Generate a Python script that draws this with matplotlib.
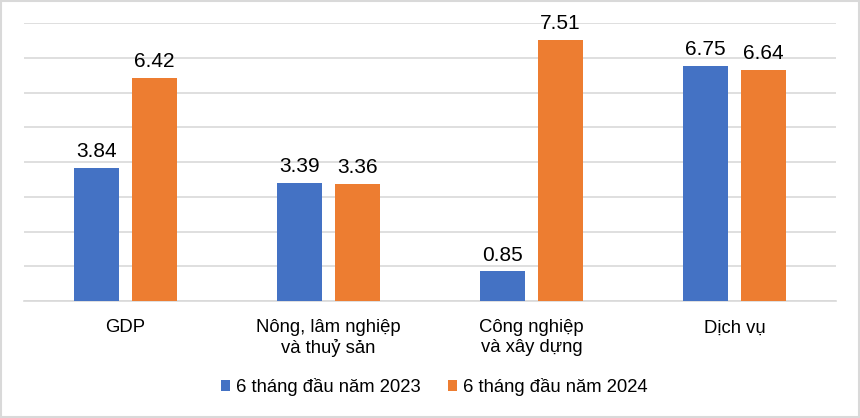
import matplotlib
matplotlib.use("Agg")
import matplotlib.pyplot as plt
import numpy as np
from matplotlib.patches import Rectangle

categories = ["GDP", "Nông, lâm nghiệp\nvà thuỷ sản", "Công nghiệp\nvà xây dựng", "Dịch vụ"]
series_names = ["6 tháng đầu năm 2023", "6 tháng đầu năm 2024"]
values_2023 = [3.84, 3.39, 0.85, 6.75]
values_2024 = [6.42, 3.36, 7.51, 6.64]
colors = ["#4472C4", "#ED7D31"]

plt.rcParams['font.family'] = ['Liberation Sans', 'DejaVu Sans']

fig = plt.figure(figsize=(8.6, 4.18), dpi=100)
ax = fig.add_axes([24/860, 1-301/418, (836-24)/860, (301-23)/418])

x = np.arange(len(categories))
w = 0.222
off = 0.143
b1 = ax.bar(x - off, values_2023, w, color=colors[0], label=series_names[0], zorder=3)
b2 = ax.bar(x + off, values_2024, w, color=colors[1], label=series_names[1], zorder=3)
for b, v in ((b1, values_2023), (b2, values_2024)):
    ax.bar_label(b, labels=[f"{t:.2f}" for t in v], padding=5, fontsize=15, color="#000000")

ax.set_xlim(-0.5, len(categories) - 0.5)
ax.set_ylim(0, 8)
ax.set_yticks(np.arange(0, 9, 1))
ax.yaxis.grid(True, color="#d9d9d9", linewidth=1.2, zorder=0)
ax.tick_params(axis='y', left=False, labelleft=False)
ax.tick_params(axis='x', bottom=False, pad=9.7)
ax.set_xticks(x)
ax.set_xticklabels(categories, fontsize=13.3, linespacing=1.2)
for s in ["top", "right", "left"]:
    ax.spines[s].set_visible(False)
ax.spines["bottom"].set_color("#d9d9d9")
ax.spines["bottom"].set_linewidth(1.2)

fig.legend(loc='center', bbox_to_anchor=(0.505, 1-387/418), ncol=2, frameon=False,
           fontsize=13.3, handlelength=0.5, handleheight=0.5, handletextpad=0.3,
           columnspacing=1.5)

fig.patches.append(Rectangle((0.0015, 0.003), 0.997, 0.994, transform=fig.transFigure,
                             fill=False, edgecolor="#d9d9d9", linewidth=1.5))

fig.savefig("out.png", dpi=100)
